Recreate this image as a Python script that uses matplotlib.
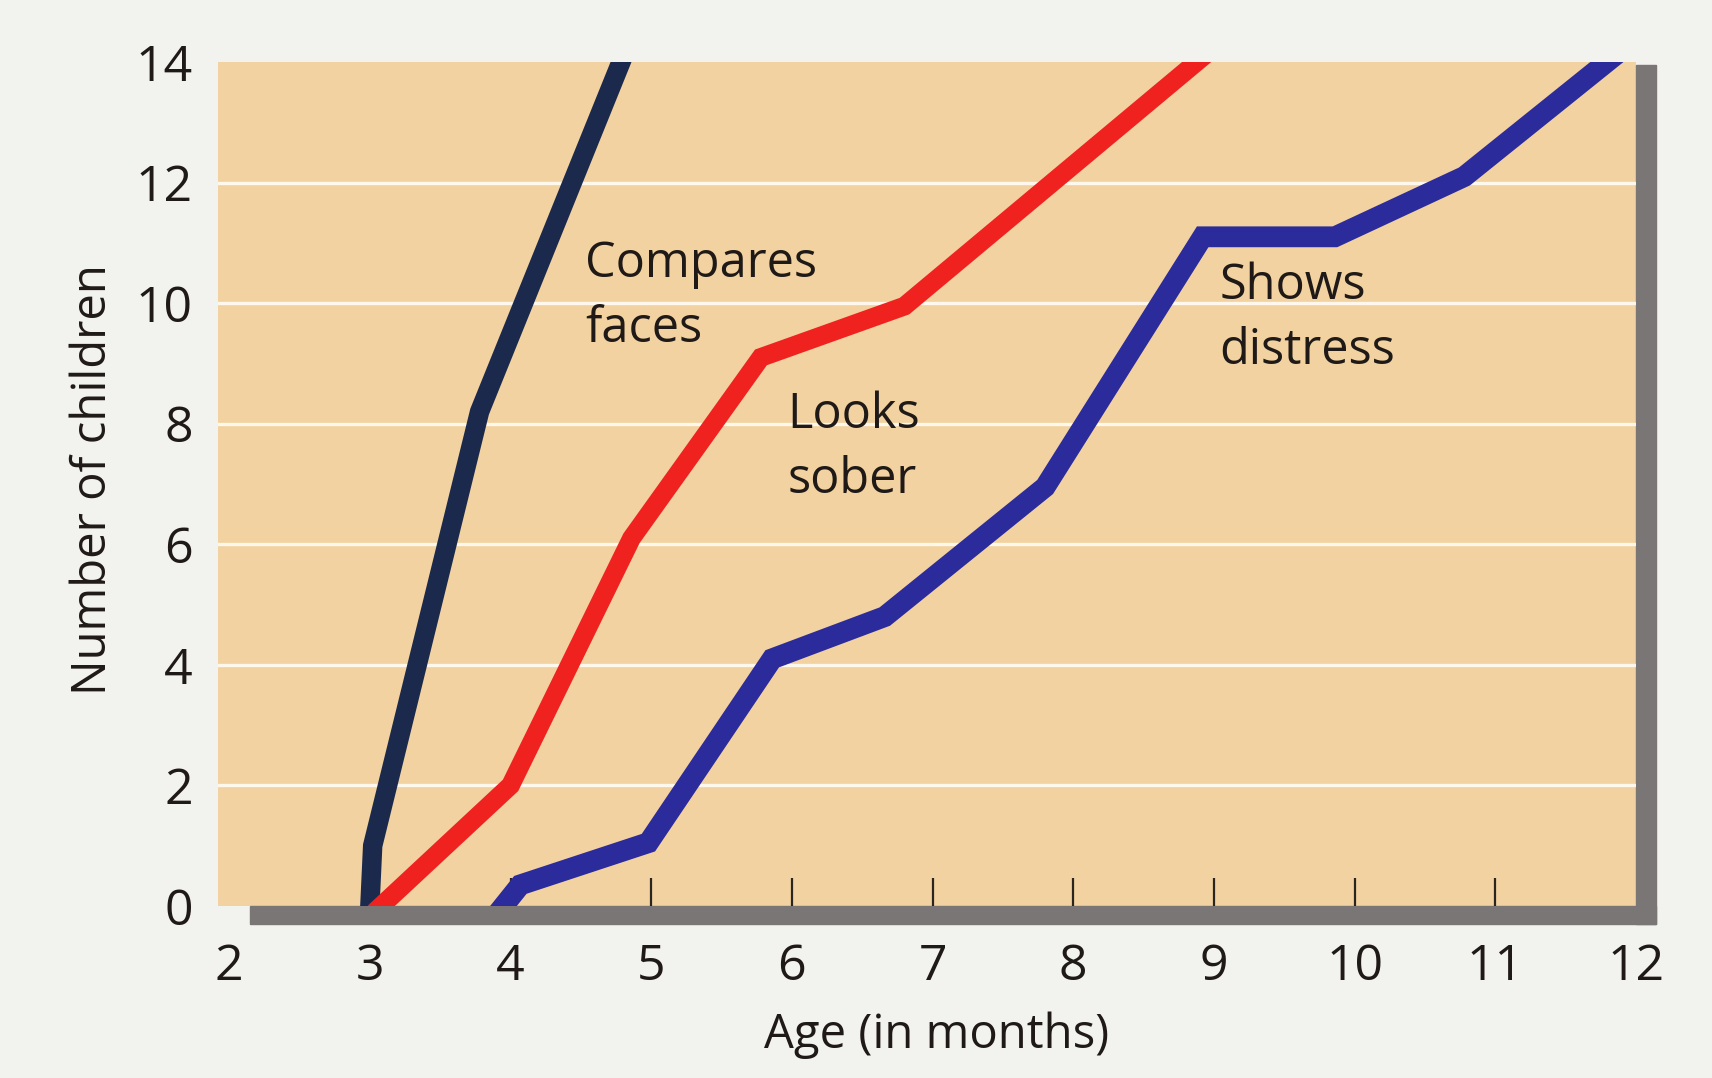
import matplotlib.pyplot as plt
from matplotlib.patches import Rectangle

# ages (months) and cumulative number of children
compares_x = [3.0, 3.02, 3.78, 4.82]
compares_y = [0, 1.0, 8.2, 14.2]

looks_x = [3.08, 4.0, 4.86, 5.78, 6.8, 8.98]
looks_y = [0, 2.0, 6.1, 9.1, 9.95, 14.2]

shows_x = [3.95, 4.07, 4.98, 5.86, 6.66, 7.8, 8.92, 9.86, 10.78, 11.9]
shows_y = [0, 0.35, 1.05, 4.1, 4.8, 6.95, 11.1, 11.1, 12.1, 14.2]

months = list(range(2, 13))
counts = list(range(0, 15, 2))

navy = "#1b2a4c"
red = "#f0221f"
blue = "#2b2b9c"
tan = "#f2d2a0"
shadow = "#7b7676"
ink = "#1f1a17"

plt.rcParams["font.family"] = ["Open Sans", "DejaVu Sans"]

fig = plt.figure(figsize=(17.12, 10.78), dpi=100, facecolor="#f2f2ef")
ax = fig.add_axes([0.1273, 0.1596, 0.8283, 0.7829])
ax.set_facecolor(tan)
ax.set_xlim(1.92, 12)
ax.set_ylim(0, 14)
for s in ax.spines.values():
    s.set_visible(False)

# drop shadow along bottom and right edge
ax.add_patch(Rectangle((0.0226, -0.0213), 0.9914, 0.0213, transform=ax.transAxes,
                       clip_on=False, color=shadow, zorder=1))
ax.add_patch(Rectangle((1.0, -0.0213), 0.014, 1.018, transform=ax.transAxes,
                       clip_on=False, color=shadow, zorder=1))

# white horizontal rules
for c in counts[1:-1]:
    ax.axhline(c, color="#fdf7ec", lw=2.4, zorder=1.5)

ax.plot(compares_x, compares_y, color=navy, lw=14, solid_joinstyle="miter", zorder=3)
ax.plot(looks_x, looks_y, color=red, lw=13.5, solid_joinstyle="miter", zorder=3)
ax.plot(shows_x, shows_y, color=blue, lw=15, solid_joinstyle="miter", zorder=3)

ax.text(4.53, 10.1, "Compares\nfaces", fontsize=35, color=ink, ha="left", va="center", linespacing=1.42)
ax.text(5.97, 7.6, "Looks\nsober", fontsize=35, color=ink, ha="left", va="center", linespacing=1.42)
ax.text(9.04, 9.74, "Shows\ndistress", fontsize=35, color=ink, ha="left", va="center", linespacing=1.42)

ax.set_xticks(months)
ax.set_xticklabels([str(m) for m in months], fontsize=36, color=ink)
ax.tick_params(axis="x", direction="in", length=20, width=1.6, color="#2a2520", pad=26)
xt = ax.xaxis.get_major_ticks()
xt[0].tick1line.set_visible(False)
xt[-1].tick1line.set_visible(False)

ax.set_yticks(counts)
ax.set_yticklabels([str(c) for c in counts], fontsize=36, color=ink)
ax.tick_params(axis="y", length=0, pad=18)

fig.text(937 / 1712, 1 - 1035 / 1078, "Age (in months)", fontsize=34, color=ink,
         ha="center", va="center")
fig.text(93 / 1712, 1 - 480 / 1078, "Number of children", fontsize=34, color=ink,
         ha="center", va="center", rotation=90)

fig.savefig("out.png", dpi=100, facecolor=fig.get_facecolor())
